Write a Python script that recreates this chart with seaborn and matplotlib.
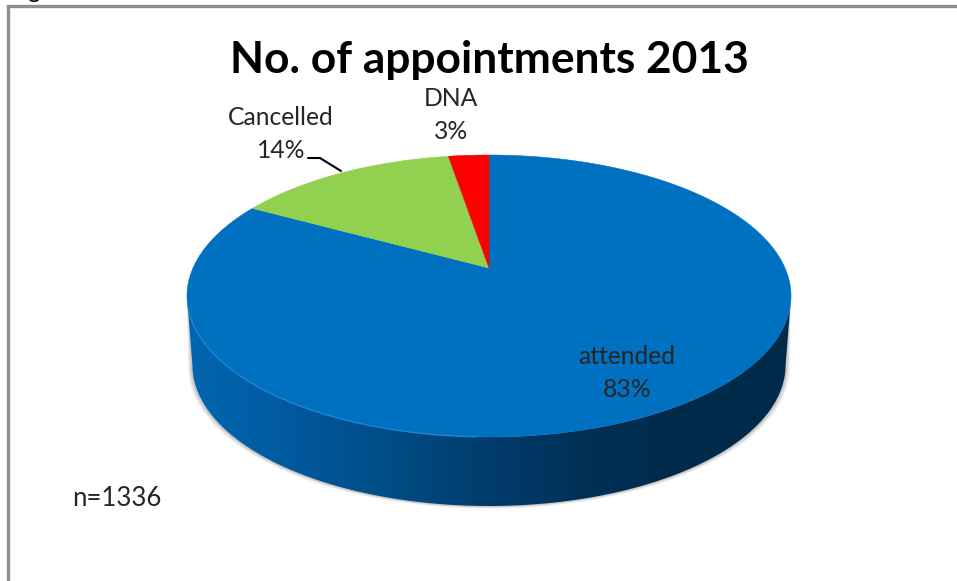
import numpy as np
import matplotlib
matplotlib.use("Agg")
import matplotlib.pyplot as plt
from matplotlib.patches import Polygon
from matplotlib.colors import LinearSegmentedColormap
import seaborn as sns

# Data (counts estimated from slice sizes and the n=1336 note)
categories = ["attended", "Cancelled", "DNA"]
counts = [1109, 192, 35]
note = "n=1336"
title = "No. of appointments 2013"
colors = ["#0070C0", "#92D050", "#FF0000"]

sns.set_theme(style="white")
plt.rcParams["font.family"] = ["Lato", "DejaVu Sans"]

W, H = 957, 581
fig = plt.figure(figsize=(W / 100, H / 100), dpi=100)
ax = fig.add_axes([0, 0, 1, 1])

wedges, _ = ax.pie(counts, colors=colors, startangle=90, counterclock=False, frame=True)

# Perspective projection of the unit disc onto the tilted pie top
CX, K, TOP_A, TOP_Y, SX = 489.0, 0.1986, -82.2, 268.0, 296.0

def project(theta_deg, r=1.0, dy=0.0, sx=1.0):
    t = np.radians(theta_deg)
    u, v = r * np.cos(t), r * np.sin(t)
    d = 1 + K * v
    return np.column_stack([CX + sx * SX * u / d, (TOP_Y + TOP_A * v) / d + dy])

# Front wall and its drop shadow: arcs run between the silhouette points of the ellipse
extreme = np.linspace(191.5, 348.5, 240)
DEPTH = 69
top_arc = project(extreme)
bottom_arc = project(extreme, dy=DEPTH, sx=0.982)
wall_pts = np.vstack([top_arc, bottom_arc[::-1]])

for grow, alpha in [(4.5, .05), (3.5, .07), (2.5, .09), (1.5, .12)]:
    shadow = project(extreme, dy=DEPTH + grow * .6, sx=0.982 + grow / 300)
    ax.add_patch(Polygon(np.vstack([top_arc, shadow[::-1]]), closed=True,
                         fc="#404040", ec="none", alpha=alpha, zorder=1))

wall_cmap = LinearSegmentedColormap.from_list(
    "wall", sns.blend_palette(["#0066B0", "#005A9E", "#004C86", "#003C6C", "#002F55", "#002A4A", "#002A4A"], 64))
grad = np.linspace(0, 1, 512).reshape(1, -1)
im = ax.imshow(grad, cmap=wall_cmap, extent=[187, 791, 520, 260], aspect="auto", zorder=2)
wall = Polygon(wall_pts, closed=True, transform=ax.transData, fc="none", ec="none")
ax.add_patch(wall)
im.set_clip_path(wall)

# Pie top, taken from the library's wedges
for w, c in zip(wedges, colors):
    angles = np.linspace(w.theta1, w.theta2, 200)
    arc = project(angles)
    apex = project(np.array([0.0]), r=0.0)
    ax.add_patch(Polygon(np.vstack([apex, arc]), closed=True, fc=c, ec=c, lw=0.4, zorder=3))
    w.remove()

# Rim highlight on the front-left edge
rim = project(np.linspace(196, 268, 120))
ax.plot(rim[:, 0], rim[:, 1], color="#2A8FE6", lw=1.0, alpha=.6, zorder=4)

# Outer frame
ax.plot([8, 8, W + 2], [H + 2, 6, 6], color="#8E8E8E", lw=2.4, zorder=5, solid_joinstyle="miter")

# Text
pct = [f"{round(100 * c / sum(counts))}%" for c in counts]
txt = "#262626"
lab_pos = [(627, 373), (281, 134), (451, 115)]
for name, p, (x, y) in zip(categories, pct, lab_pos):
    ax.text(x, y, f"{name}\n{p}", ha="center", va="center", fontsize=17.7, color=txt,
            linespacing=1.5, zorder=6)
ax.plot([308, 320, 341], [158, 158, 171], color="black", lw=1.5, zorder=6)
ax.text(117, 499, note, ha="center", va="center", fontsize=18.5, color=txt, zorder=6)
ax.text(489, 60, title, ha="center", va="center", fontsize=31.9, fontweight="bold",
        color="black", zorder=6)
ax.text(10, -2, "Figure", ha="left", va="baseline", fontsize=17, color="black", clip_on=False)

ax.set_xlim(0, W)
ax.set_ylim(H, 0)
ax.set_aspect("auto")
ax.axis("off")
fig.savefig("out.png", dpi=100, facecolor="white")
